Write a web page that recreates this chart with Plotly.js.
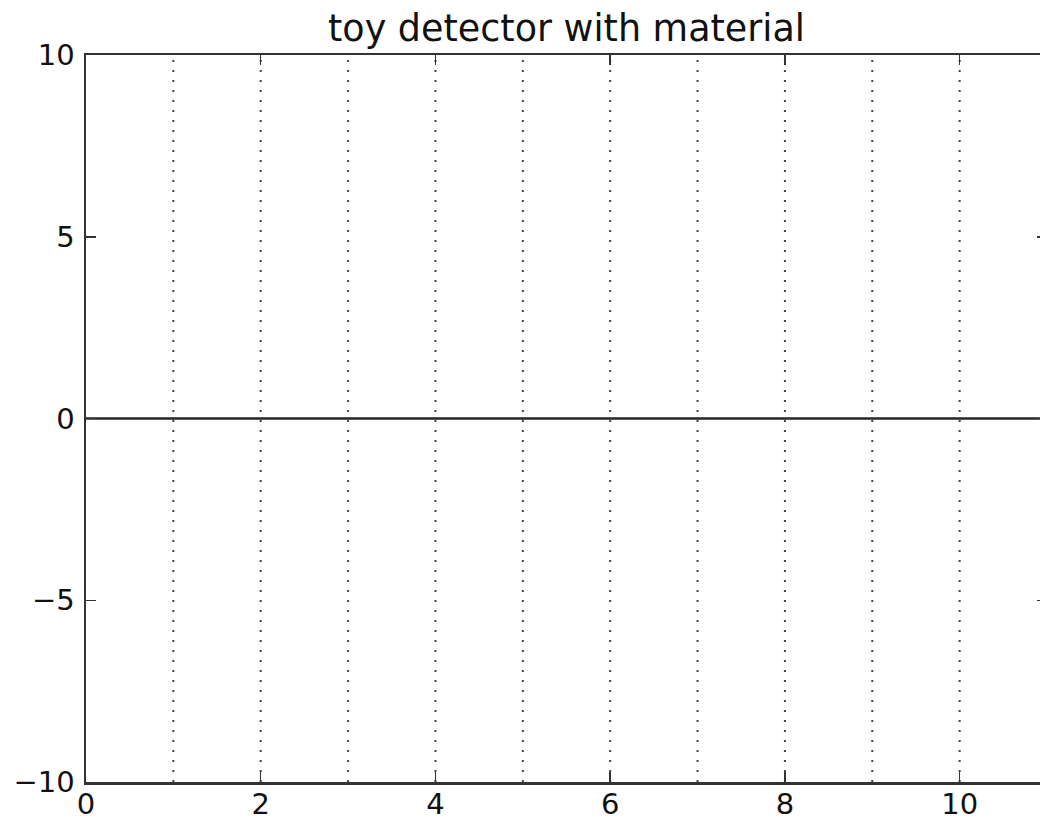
<!DOCTYPE html>
<html>
<head>
<meta charset="utf-8">
<script src="https://cdn.plot.ly/plotly-3.0.1.min.js"></script>
<style>
html, body { margin: 0; padding: 0; overflow: hidden; background: #fff; }
#chart { width: 1050px; height: 823px; }
</style>
</head>
<body>
<div id="chart"></div>
<script>
// Detector layer positions (x) and their vertical extent
const layerX = [1, 2, 3, 4, 5, 6, 7, 8, 9, 10];
const layerYExtent = [-10, 10];
// Track (straight line)
const trackX = [0, 11];
const trackY = [0, 0];
// Axis settings
const xTicks = [0, 2, 4, 6, 8, 10];
const yTicks = [-10, -5, 0, 5, 10];
const xRange = [0, 11];
const yRange = [-10, 10];

const traces = [];
layerX.forEach(function (x) {
  traces.push({
    type: 'scatter', mode: 'lines',
    x: [x, x], y: layerYExtent,
    line: { color: '#444444', width: 2, dash: '2px,8px' },
    hoverinfo: 'skip', showlegend: false
  });
});
traces.push({
  type: 'scatter', mode: 'lines',
  x: trackX, y: trackY,
  line: { color: '#262626', width: 2.5 },
  showlegend: false
});

const axisCommon = {
  showgrid: false, zeroline: false,
  showline: true, linecolor: '#333333', linewidth: 2.5,
  mirror: 'allticks', ticks: 'inside', ticklen: 10, tickwidth: 1.5, tickcolor: '#333333',
  tickfont: { family: 'DejaVu Sans', size: 29, color: '#111' }
};

const layout = {
  width: 1050, height: 823,
  margin: { l: 86, r: 3, t: 55, b: 41, pad: 0 },
  paper_bgcolor: '#fff', plot_bgcolor: '#fff',
  title: {
    text: 'toy detector with material',
    font: { family: 'DejaVu Sans', size: 36.5, color: '#111' },
    x: 0.5, xref: 'paper', xanchor: 'center',
    y: 1, yref: 'paper', yanchor: 'bottom', pad: { b: 14 }
  },
  xaxis: Object.assign({}, axisCommon, {
    range: xRange, tickvals: xTicks, ticklabelstandoff: -5
  }),
  yaxis: Object.assign({}, axisCommon, {
    range: yRange, tickvals: yTicks, ticklabelstandoff: 3
  })
};

Plotly.newPlot('chart', traces, layout, { displayModeBar: false, staticPlot: true });
</script>
</body>
</html>
